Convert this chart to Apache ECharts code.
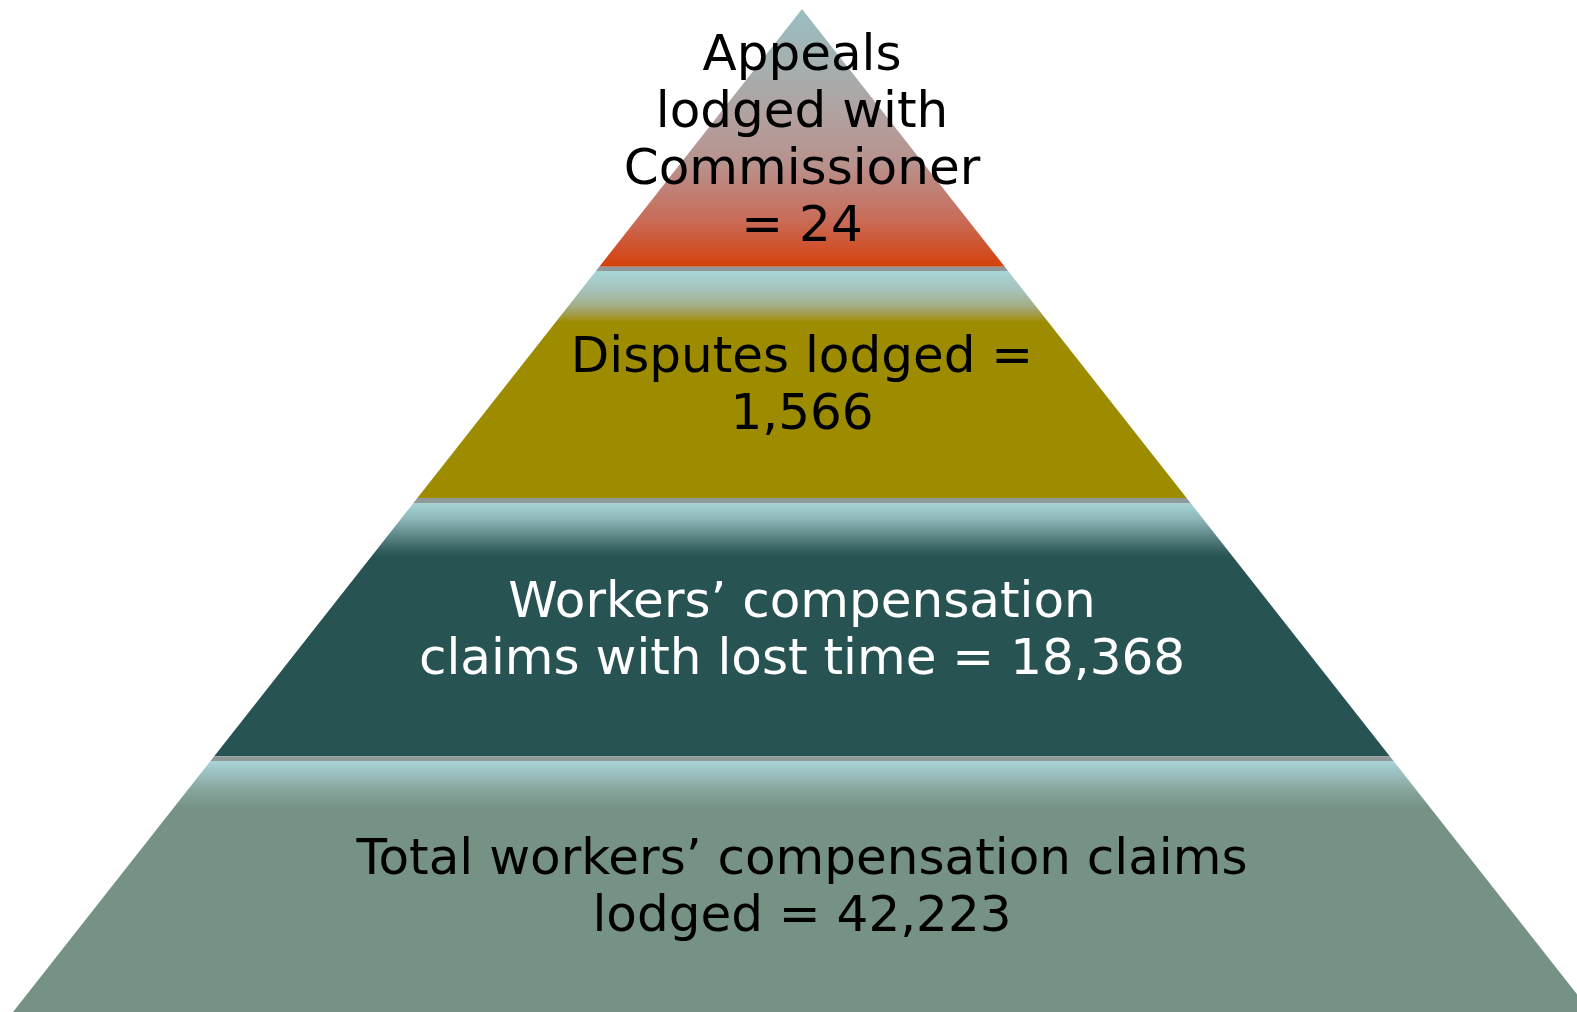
<!DOCTYPE html>
<html>
<head>
<meta charset="utf-8">
<title>Claims pyramid</title>
<script src="https://cdn.jsdelivr.net/npm/echarts@6/dist/echarts.min.js"></script>
<style>
  html, body { margin: 0; padding: 0; background: #ffffff; }
  #main { width: 1577px; height: 1012px; }
</style>
</head>
<body>
<div id="main"></div>
<script>
var dom = document.getElementById('main');
var myChart = echarts.init(dom);

// tiers, top to bottom
var tierLabels = [
    'Appeals\nlodged with\nCommissioner\n= {n}',
    'Disputes lodged =\n{n}',
    'Workers\u2019 compensation\nclaims with lost time = {n}',
    'Total workers\u2019 compensation claims\nlodged = {n}'
];
var tierCounts = [24, 1566, 18368, 42223];
// width of each tier's bottom edge, % of the pyramid base
var tierWidth = [25.7, 48.75, 74.5, 100];

var tierColor = ['#d4410b', '#9e8c00', '#275353', '#769285'];
var textColor = ['#000000', '#000000', '#ffffff', '#000000'];

var sep = '#8f9999';
var pale = '#a8d4d6';

function gradient(i) {
    if (i == 0) {
        return new echarts.graphic.LinearGradient(0, 0, 0, 1, [
            { offset: 0, color: '#99bfc2' },
            { offset: 0.43, color: '#b2a09e' },
            { offset: 0.6, color: '#b8928d' },
            { offset: 0.82, color: '#c96b58' },
            { offset: 1, color: tierColor[0] }
        ]);
    }
    var s = 0.02;
    // colours partway down the pale-to-tier fade
    var fade = [
        null,
        [['#a5c3bb', 0.35], ['#a4b08e', 0.65], ['#a29c48', 0.85]],
        [['#8db5b7', 0.3], ['#5f8788', 0.6], ['#345f5f', 0.88]],
        [['#99bdbd', 0.3], ['#87a69c', 0.62], ['#7a978a', 0.9]]
    ][i];
    var end = [0, 0.24, 0.23, 0.2][i];
    var stops = [
        { offset: 0, color: sep },
        { offset: s, color: sep },
        { offset: s, color: pale }
    ];
    for (var k = 0; k < fade.length; k++) {
        stops.push({ offset: s + (end - s) * fade[k][1], color: fade[k][0] });
    }
    stops.push({ offset: end, color: tierColor[i] });
    stops.push({ offset: 1, color: tierColor[i] });
    return new echarts.graphic.LinearGradient(0, 0, 0, 1, stops);
}

var data = [];
for (var i = 0; i < tierLabels.length; i++) {
    var h = tierWidth[i] - (i > 0 ? tierWidth[i - 1] : 0);
    data.push({
        name: tierLabels[i].replace('{n}', tierCounts[i].toLocaleString('en-US')),
        value: tierWidth[i],
        itemStyle: { color: gradient(i), height: h + '%' },
        label: { color: textColor[i] }
    });
}

var option = {
    backgroundColor: '#ffffff',
    animation: false,
    series: [{
        type: 'funnel',
        sort: 'ascending',
        left: 13,
        top: 9,
        width: 1578,
        height: 1003,
        min: 0,
        max: 100,
        minSize: '0%',
        maxSize: '100%',
        gap: 0,
        itemStyle: { borderWidth: 0 },
        label: {
            show: true,
            position: 'inside',
            formatter: '{b}',
            fontFamily: 'DejaVu Sans',
            fontSize: 50,
            lineHeight: 57,
            textBorderWidth: 0,
            align: 'center'
        },
        labelLayout: function () {
            return { dy: 5 };
        },
        labelLine: { show: false },
        emphasis: { disabled: true },
        data: data
    }]
};

myChart.setOption(option);
</script>
</body>
</html>
